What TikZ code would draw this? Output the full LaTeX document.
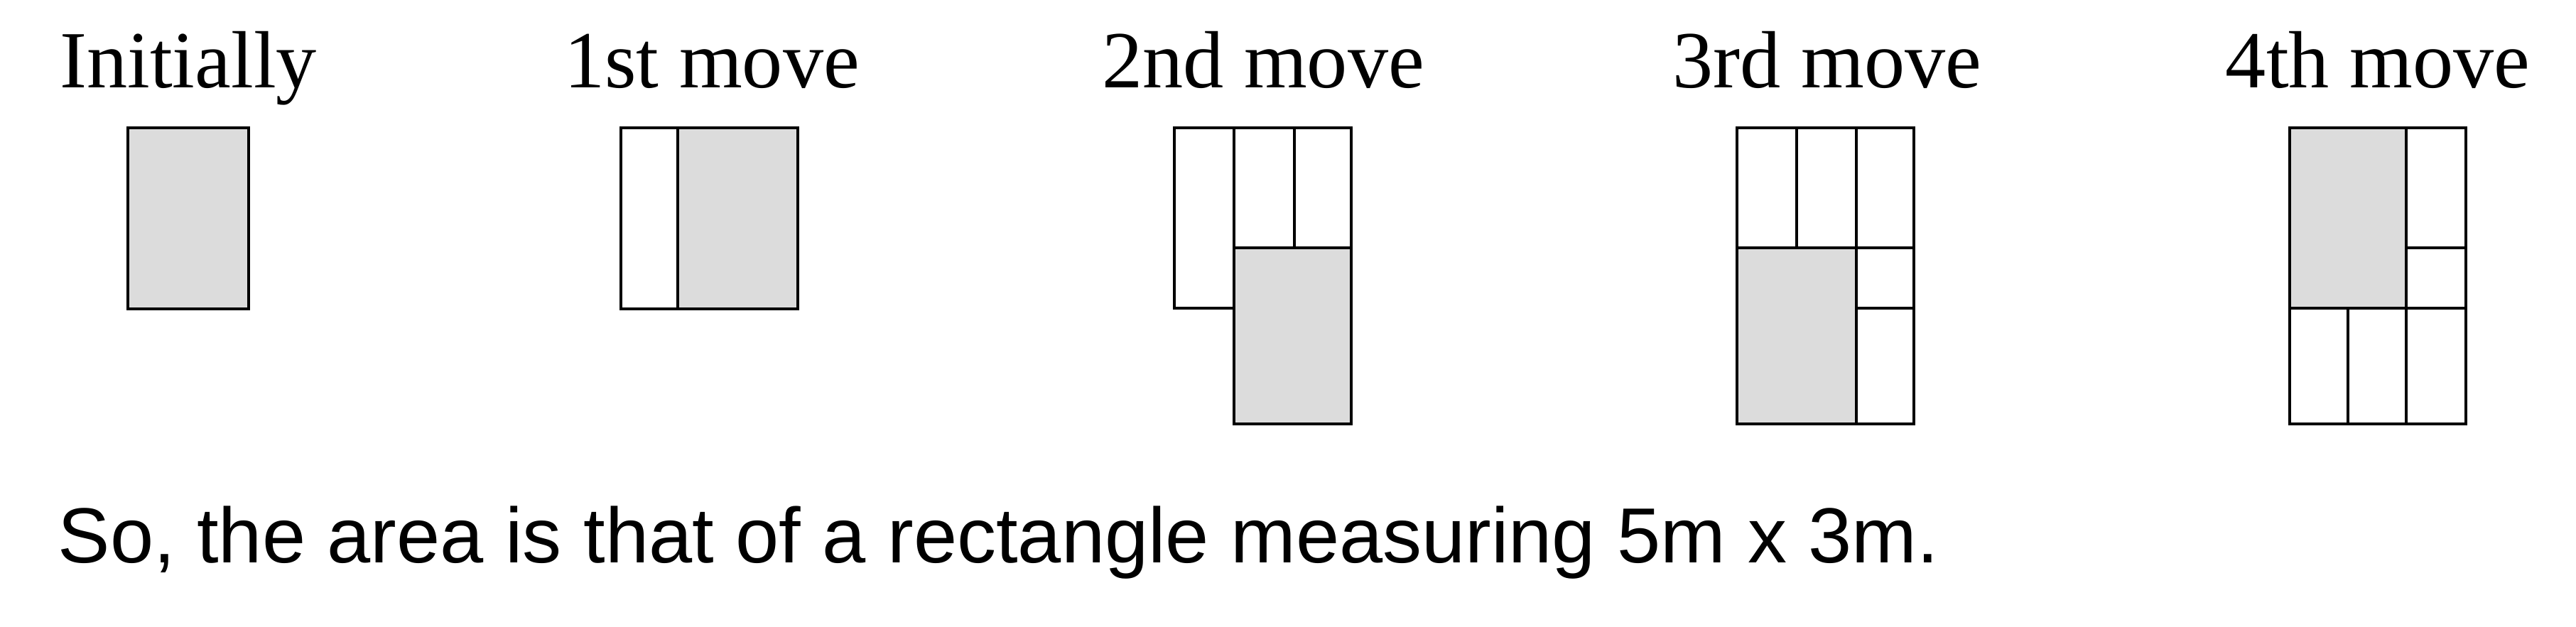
\documentclass[tikz,border=0pt]{standalone}
\usepackage{fontspec}
\setmainfont{Liberation Serif}
\newfontfamily\arialfont{Liberation Sans}
\definecolor{shade}{HTML}{DCDCDC}
\tikzset{
  cell/.style={draw=black, line width=1.15pt, fill=white},
  graycell/.style={draw=black, line width=1.15pt, fill=shade},
  head/.style={anchor=base, inner sep=0pt, font=\fontsize{32.5}{39}\selectfont},
  foot/.style={anchor=base west, inner sep=0pt, font=\arialfont\fontsize{31.3}{38}\selectfont}
}
\begin{document}
\begin{tikzpicture}
\useasboundingbox (0,0) rectangle (36.26,-8.82);
% headings
\node[head] (h0) at (2.65,-1.23) {Initially};
\node[head] (h1) at (10.02,-1.23) {1st move};
\node[head] (h2) at (17.78,-1.23) {2nd move};
\node[head] (h3) at (25.72,-1.23) {3rd move};
\node[head] (h4) at (33.47,-1.23) {4th move};
% initially
\draw[graycell] (1.80,-1.80) rectangle (3.50,-4.35);
% 1st move
\draw[cell] (8.74,-1.80) rectangle (9.54,-4.35);
\draw[graycell] (9.54,-1.80) rectangle (11.23,-4.35);
% 2nd move
\draw[cell] (16.53,-1.80) rectangle (17.37,-4.34);
\draw[cell] (17.37,-1.80) rectangle (18.22,-3.49);
\draw[cell] (18.22,-1.80) rectangle (19.02,-3.49);
\draw[graycell] (17.37,-3.49) rectangle (19.02,-5.97);
% 3rd move
\draw[cell] (24.45,-1.80) rectangle (25.29,-3.49);
\draw[cell] (25.29,-1.80) rectangle (26.13,-3.49);
\draw[cell] (26.13,-1.80) rectangle (26.94,-3.49);
\draw[graycell] (24.45,-3.49) rectangle (26.13,-5.97);
\draw[cell] (26.13,-3.49) rectangle (26.94,-4.34);
\draw[cell] (26.13,-4.34) rectangle (26.94,-5.97);
% 4th move
\draw[graycell] (32.23,-1.80) rectangle (33.87,-4.34);
\draw[cell] (33.87,-1.80) rectangle (34.71,-3.49);
\draw[cell] (33.87,-3.49) rectangle (34.71,-4.34);
\draw[cell] (32.23,-4.34) rectangle (33.05,-5.97);
\draw[cell] (33.05,-4.34) rectangle (33.87,-5.97);
\draw[cell] (33.87,-4.34) rectangle (34.71,-5.97);
% conclusion
\node[foot] (concl) at (0.81,-7.92) {So, the area is that of a rectangle measuring 5m x 3m.};
\end{tikzpicture}
\end{document}
